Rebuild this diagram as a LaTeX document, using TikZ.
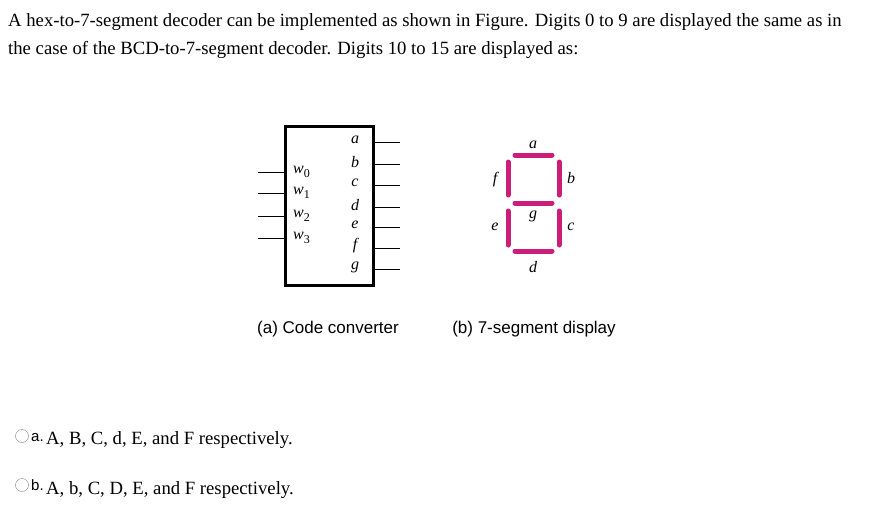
\documentclass[tikz,border=0pt]{standalone}
\usepackage{fontspec}
\setmainfont{Liberation Serif}
\newfontfamily\arial{Liberation Sans}
\begin{document}
\begin{tikzpicture}[x=1pt,y=-1pt,
  body/.style={font=\fontsize{18.7}{22}\selectfont,anchor=base west,inner sep=0},
  captext/.style={font=\arial\fontsize{17}{20}\selectfont,anchor=base,inner sep=0},
  lab/.style={font=\fontsize{16}{18}\selectfont\itshape,inner sep=0},
  seg/.style={line width=5pt,line cap=round,draw={rgb,255:red,204;green,30;blue,120}},
  wire/.style={line width=1pt}]
\useasboundingbox (0,0) rectangle (869,504);
\node[body] (t1) at (8,26) {A hex-to-7-segment decoder can be implemented as shown in Figure. Digits 0 to 9 are displayed the same as in};
\node[body] (t2) at (8,54) {the case of the BCD-to-7-segment decoder. Digits 10 to 15 are displayed as:};
% decoder
\draw[line width=3pt] (285,126) rectangle (373,285);
\foreach \n/\y in {0/172,1/193,2/216,3/238}{
  \coordinate (in\n) at (285,\y);
  \coordinate (is\n) at (258,\y);
  \draw[wire] (is\n) -- (in\n);
  \node[lab,anchor=west] (w\n) at (293,\y) {w\raisebox{-0.25em}{\upshape\fontsize{12}{14}\selectfont\n}};
}
\foreach \l/\y in {a/142,b/164,c/185,d/207,e/227,f/248,g/269}{
  \coordinate (o\l) at (373,\y);
  \coordinate (oe\l) at (400,\y);
  \draw[wire] (o\l) -- (oe\l);
  \node[lab] (L\l) at (355,\y-2) {\l};
}
% 7-seg
\coordinate (p1) at (515,155); \coordinate (p2) at (552,155);
\coordinate (p3) at (508,162); \coordinate (p4) at (508,195);
\coordinate (p5) at (559,162); \coordinate (p6) at (559,195);
\coordinate (p7) at (515,203); \coordinate (p8) at (552,203);
\coordinate (p9) at (508,211); \coordinate (p10) at (508,245);
\coordinate (p11) at (559,211); \coordinate (p12) at (559,245);
\coordinate (p13) at (515,251); \coordinate (p14) at (552,251);
\draw[seg] (p1)--(p2); \draw[seg] (p3)--(p4); \draw[seg] (p5)--(p6);
\draw[seg] (p7)--(p8); \draw[seg] (p9)--(p10); \draw[seg] (p11)--(p12);
\draw[seg] (p13)--(p14);
\node[lab] (sa) at (533,145) {a};
\node[lab] (sf) at (495,180) {f};
\node[lab] (sb) at (571,178) {b};
\node[lab] (sg) at (533,216) {g};
\node[lab] (se) at (495,227) {e};
\node[lab] (sc) at (571,227) {c};
\node[lab] (sd) at (533,267) {d};
\node[captext] (ca) at (328,333) {(a) Code converter};
\node[captext] (cb) at (534,333) {(b) 7-segment display};
% options
\draw[gray] (22,436) circle (6.5);
\node[body,font=\arial\fontsize{15}{17}\selectfont] (oa) at (31,441) {a.};
\node[body] (ta) at (46,444) {A, B, C, d, E, and F respectively.};
\draw[gray] (22,485) circle (6.5);
\node[body,font=\arial\fontsize{15}{17}\selectfont] (ob) at (31,490) {b.};
\node[body] (tb) at (46,494) {A, b, C, D, E, and F respectively.};
\end{tikzpicture}
\end{document}
